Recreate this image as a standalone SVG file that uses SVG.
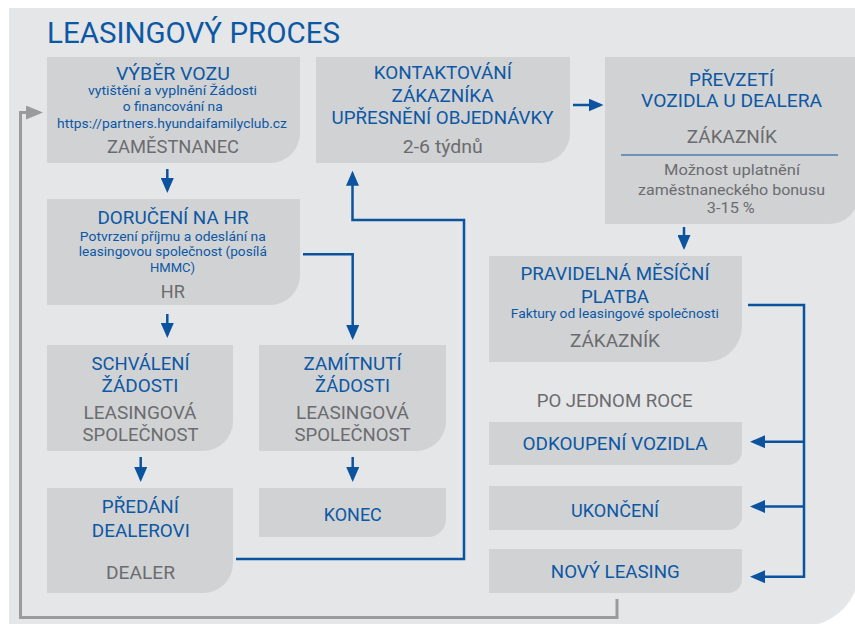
<svg xmlns="http://www.w3.org/2000/svg" width="855" height="624" viewBox="0 0 855 624">
<defs>
<style>
text{font-family:Roboto,"Liberation Sans",sans-serif;text-anchor:middle}
.box{fill:#d1d2d4}
.h{fill:#0c58a4;font-size:19px}
.s{fill:#0c58a4;font-size:13px}
.g{fill:#6b6c6f;font-size:18px}
.gs{fill:#6b6c6f;font-size:15px}
.c{fill:none;stroke:#0b539e;stroke-width:2.5}
.cg{fill:none;stroke:#9a9b9d;stroke-width:3}
</style>
<marker id="ab" markerUnits="userSpaceOnUse" markerWidth="16" markerHeight="13" refX="12" refY="6.5" orient="auto"><path d="M0,0 L15,6.5 L0,13 z" fill="#0b539e"/></marker>
<marker id="ag" markerUnits="userSpaceOnUse" markerWidth="18" markerHeight="14" refX="14" refY="7" orient="auto"><path d="M0,0 L17,7 L0,14 z" fill="#9a9b9d"/></marker>
</defs>
<path d="M9 8 H859 V570 A56 56 0 0 1 803 626 H9 Z" fill="#e5e6e8"/>
<text x="47" y="43.3" style="text-anchor:start;font-size:29px;fill:#0c58a4" textLength="293" lengthAdjust="spacingAndGlyphs">LEASINGOVÝ PROCES</text>

<g id="vyber-vozu">
<path class="box" d="M47 57 H300 V133 A30 30 0 0 1 270 163 H47 Z"/>
<text class="h" x="172.9" y="80" textLength="114" lengthAdjust="spacingAndGlyphs">VÝBĚR VOZU</text>
<text class="s" x="172.5" y="95" textLength="169" lengthAdjust="spacingAndGlyphs">vytištění a vyplnění Žádosti</text>
<text class="s" x="172.7" y="110.7" textLength="100" lengthAdjust="spacingAndGlyphs">o financování na</text>
<text class="s" x="172" y="127.7" textLength="230" lengthAdjust="spacingAndGlyphs">https://partners.hyundaifamilyclub.cz</text>
<text class="g" x="173" y="152.7" textLength="132" lengthAdjust="spacingAndGlyphs">ZAMĚSTNANEC</text>
</g>

<g id="kontaktovani">
<path class="box" d="M316 57 H570 V133 A30 30 0 0 1 540 163 H316 Z"/>
<text class="h" x="442.8" y="79.3" textLength="138" lengthAdjust="spacingAndGlyphs">KONTAKTOVÁNÍ</text>
<text class="h" x="442.5" y="101.7" textLength="102" lengthAdjust="spacingAndGlyphs">ZÁKAZNÍKA</text>
<text class="h" x="442.5" y="124.3" textLength="222" lengthAdjust="spacingAndGlyphs">UPŘESNĚNÍ OBJEDNÁVKY</text>
<text class="g" x="442.8" y="152.7" textLength="80" lengthAdjust="spacingAndGlyphs">2-6 týdnů</text>
</g>

<g id="prevzeti">
<path class="box" d="M605 57 H858 V196 A28 28 0 0 1 830 224 H605 Z"/>
<text class="h" x="731.5" y="85.7" textLength="85" lengthAdjust="spacingAndGlyphs">PŘEVZETÍ</text>
<text class="h" x="731.6" y="106.7" textLength="181" lengthAdjust="spacingAndGlyphs">VOZIDLA U DEALERA</text>
<text class="g" x="731.8" y="142.7" textLength="90" lengthAdjust="spacingAndGlyphs">ZÁKAZNÍK</text>
<line x1="621" y1="155" x2="838" y2="155" stroke="#0b539e" stroke-width="1.2"/>
<text class="gs" x="732" y="175" textLength="136" lengthAdjust="spacingAndGlyphs">Možnost uplatnění</text>
<text class="gs" x="731.5" y="195" textLength="187" lengthAdjust="spacingAndGlyphs">zaměstnaneckého bonusu</text>
<text class="gs" x="730.8" y="213.3" textLength="48" lengthAdjust="spacingAndGlyphs">3-15 %</text>
</g>

<g id="doruceni">
<path class="box" d="M47 199 H300 V275 A30 30 0 0 1 270 305 H47 Z"/>
<text class="h" x="173" y="224.3" style="font-size:18px" textLength="151" lengthAdjust="spacingAndGlyphs">DORUČENÍ NA HR</text>
<text class="s" x="172.8" y="240.5" style="font-size:12.5px" textLength="186" lengthAdjust="spacingAndGlyphs">Potvrzení příjmu a odeslání na</text>
<text class="s" x="172.8" y="256" style="font-size:12.5px" textLength="188" lengthAdjust="spacingAndGlyphs">leasingovou společnost (posílá</text>
<text class="s" x="172.5" y="271.7" style="font-size:12.5px" textLength="45" lengthAdjust="spacingAndGlyphs">HMMC)</text>
<text class="g" x="172.8" y="298.3" textLength="24" lengthAdjust="spacingAndGlyphs">HR</text>
</g>

<g id="schvaleni">
<path class="box" d="M47 345 H233 V421 A30 30 0 0 1 203 451 H47 Z"/>
<text class="h" x="140.5" y="370" textLength="98" lengthAdjust="spacingAndGlyphs">SCHVÁLENÍ</text>
<text class="h" x="140" y="392.3" textLength="77" lengthAdjust="spacingAndGlyphs">ŽÁDOSTI</text>
<text class="g" x="140" y="418.7" textLength="113" lengthAdjust="spacingAndGlyphs">LEASINGOVÁ</text>
<text class="g" x="140.5" y="440.7" textLength="116" lengthAdjust="spacingAndGlyphs">SPOLEČNOST</text>
</g>

<g id="zamitnuti">
<path class="box" d="M259 345 H446 V421 A30 30 0 0 1 416 451 H259 Z"/>
<text class="h" x="352.5" y="370" textLength="98" lengthAdjust="spacingAndGlyphs">ZAMÍTNUTÍ</text>
<text class="h" x="352.5" y="392.3" textLength="75" lengthAdjust="spacingAndGlyphs">ŽÁDOSTI</text>
<text class="g" x="352.5" y="418.7" textLength="113" lengthAdjust="spacingAndGlyphs">LEASINGOVÁ</text>
<text class="g" x="352.5" y="440.7" textLength="116" lengthAdjust="spacingAndGlyphs">SPOLEČNOST</text>
</g>

<g id="predani">
<path class="box" d="M47 488 H233 V563 A30 30 0 0 1 203 593 H47 Z"/>
<text class="h" x="140.3" y="513.3" textLength="77" lengthAdjust="spacingAndGlyphs">PŘEDÁNÍ</text>
<text class="h" x="140.8" y="536.7" textLength="98" lengthAdjust="spacingAndGlyphs">DEALEROVI</text>
<text class="g" x="140.5" y="579.3" textLength="69" lengthAdjust="spacingAndGlyphs">DEALER</text>
</g>

<g id="konec">
<path class="box" d="M259 488 H446 V519 A18 18 0 0 1 428 537 H259 Z"/>
<text class="h" x="352.8" y="520.7" textLength="58" lengthAdjust="spacingAndGlyphs">KONEC</text>
</g>

<g id="pravidelna">
<path class="box" d="M489 256 H742 V326 A36 36 0 0 1 706 362 H489 Z"/>
<text class="h" x="615" y="280" textLength="189" lengthAdjust="spacingAndGlyphs">PRAVIDELNÁ MĚSÍČNÍ</text>
<text class="h" x="615" y="303.3" textLength="68" lengthAdjust="spacingAndGlyphs">PLATBA</text>
<text class="s" x="614.8" y="318.3" textLength="208" lengthAdjust="spacingAndGlyphs">Faktury od leasingové společnosti</text>
<text class="g" x="615" y="346.7" textLength="90" lengthAdjust="spacingAndGlyphs">ZÁKAZNÍK</text>
</g>

<g id="po-jednom-roce">
<text class="g" x="614.7" y="406.7" textLength="156" lengthAdjust="spacingAndGlyphs">PO JEDNOM ROCE</text>
</g>

<g id="odkoupeni">
<path class="box" d="M489 422 H742 V451 A14 14 0 0 1 728 465 H489 Z"/>
<text class="h" x="615" y="450" textLength="185" lengthAdjust="spacingAndGlyphs">ODKOUPENÍ VOZIDLA</text>
</g>

<g id="ukonceni">
<path class="box" d="M489 486 H742 V516 A14 14 0 0 1 728 530 H489 Z"/>
<text class="h" x="615" y="516.7" textLength="88" lengthAdjust="spacingAndGlyphs">UKONČENÍ</text>
</g>

<g id="novy-leasing">
<path class="box" d="M489 549 H742 V579 A14 14 0 0 1 728 593 H489 Z"/>
<text class="h" x="615.3" y="578.3" textLength="129" lengthAdjust="spacingAndGlyphs">NOVÝ LEASING</text>
</g>

<g id="connectors">
<path class="c" d="M167.3 169 V190" marker-end="url(#ab)"/>
<path class="c" d="M167.3 314 V335" marker-end="url(#ab)"/>
<path class="c" d="M303 254.3 H352.7 V337" marker-end="url(#ab)"/>
<path class="c" d="M140.7 457 V479" marker-end="url(#ab)"/>
<path class="c" d="M352.7 457 V479" marker-end="url(#ab)"/>
<path class="c" d="M236 559 H464 V220 H352.5 V173.7" marker-end="url(#ab)"/>
<path class="c" d="M573 105 H600.5" marker-end="url(#ab)"/>
<path class="c" d="M684 227 V247" marker-end="url(#ab)"/>
<path class="c" d="M748 305 H804 V576.7 H753" marker-end="url(#ab)"/>
<path class="c" d="M804 441.7 H753" marker-end="url(#ab)"/>
<path class="c" d="M804 506.5 H753" marker-end="url(#ab)"/>
<path class="cg" d="M617 599 V617.5 H20.5 V112.5 H40" marker-end="url(#ag)"/>
</g>
</svg>
